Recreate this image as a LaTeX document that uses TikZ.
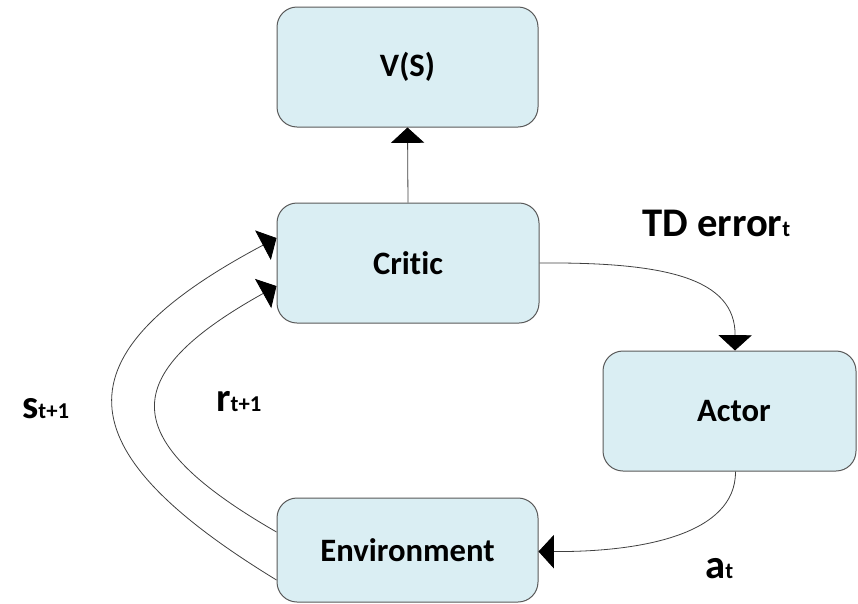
\documentclass[tikz,border=0pt]{standalone}
\usepackage{fontspec}
\setmainfont[Ligatures=CommonOff]{Carlito}
\usetikzlibrary{arrows.meta,calc}
\definecolor{boxfill}{HTML}{DAEEF3}
\definecolor{boxline}{HTML}{595959}
\definecolor{wirecol}{HTML}{404040}
\begin{document}
\begin{tikzpicture}[x=0.75pt,y=-0.75pt,
  blockbox/.style={draw=boxline, line width=0.75pt, fill=boxfill, rounded corners=15pt, inner sep=0pt,
    font=\fontsize{24.5}{29}\selectfont\bfseries},
  wire/.style={draw=wirecol, line width=0.6pt, -{Triangle[width=25pt,length=11.5pt,color=black,fill=black]}},
  biglabel/.style={inner sep=0pt, anchor=base west, font=\fontsize{30.5}{36}\selectfont\bfseries}
]
\useasboundingbox (0,0) rectangle (858,604);

\node[blockbox, minimum width=195.75pt, minimum height=90pt] (vs) at (407.5,67) {V(S)};
\node[blockbox, minimum width=196.5pt, minimum height=90pt] (critic) at (408,263) {Critic};
\node[blockbox, minimum width=189.75pt, minimum height=90pt] (actor) at (729.5,411) {\hspace*{6.75pt}Actor};
\node[blockbox, minimum width=195.75pt, minimum height=78pt] (env) at (407.5,550) {Environment};

\draw[wire] (critic.north) -- (vs.south);
\draw[wire] (critic.east) .. controls (665,262) and (735.5,278) .. ($(actor.north)+(5.5,0)$);
\draw[wire] ($(actor.south)+(6,0)$) .. controls (736,535) and (640,552) .. ($(env.east)+(0,1.5)$);
\draw[wire] ($(env.west)+(0,30)$) .. controls (62,449) and (56,355) .. ($(critic.west)+(0,-25)$);
\draw[wire] ($(env.west)+(0,-18)$) .. controls (115,439) and (117,375) .. ($(critic.west)+(0,23)$);

\node[biglabel] (td) at (642,236) {TD error{\fontsize{17}{20}\selectfont t}};
\node[biglabel] (s) at (22,418) {s{\fontsize{17}{20}\selectfont t+1}};
\node[biglabel] (r) at (216,411) {r{\fontsize{17}{20}\selectfont t+1}};
\node[biglabel] (a) at (705,578) {a{\fontsize{17}{20}\selectfont t}};
\end{tikzpicture}
\end{document}
